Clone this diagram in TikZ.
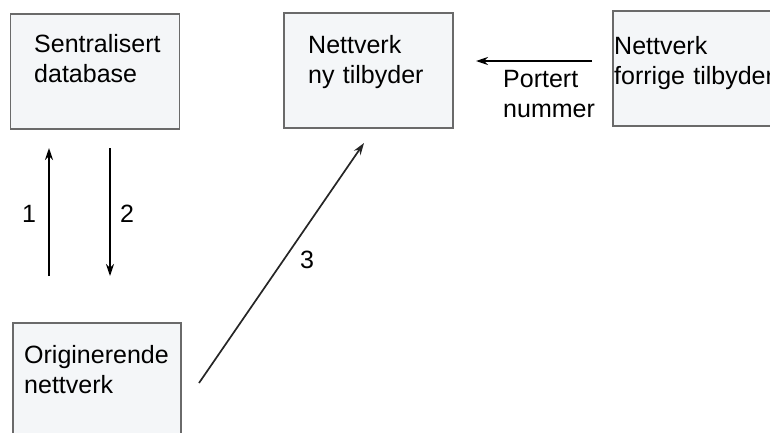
\documentclass[tikz,border=0pt]{standalone}
\usepackage{fontspec}
\setmainfont{Liberation Sans}
\usetikzlibrary{arrows.meta}
\definecolor{boxfill}{HTML}{F4F6F8}
\definecolor{boxline}{HTML}{6A6A6A}
\tikzset{
  box/.style={draw=boxline, fill=boxfill, line width=1.6pt, anchor=north west, inner sep=0pt},
  txt/.style={anchor=base west, inner sep=0pt, text width=200pt, align=left,
              font=\fontsize{25}{30}\selectfont},
  num/.style={anchor=base, inner sep=0pt, font=\fontsize{25}{30}\selectfont},
  arr/.style={-{Stealth[length=12pt,width=8pt]}, line width=1.7pt, black}
}
\begin{document}
\begin{tikzpicture}[x=1pt,y=-1pt]
\useasboundingbox (0,0) rectangle (770,432);
% boxes
\node[box, minimum width=169pt, minimum height=115pt] (db) at (9.5,13) {};
\node[box, minimum width=169pt, minimum height=115pt] (ny) at (283,12) {};
\node[box, minimum width=170pt, minimum height=115pt] (old) at (612,10) {};
\node[box, minimum width=168pt, minimum height=130pt] (orig) at (12,322) {};
% texts
\node[txt] (tdb) at (34,52) {Sentralisert\\database};
\node[txt] (tny) at (308,53) {Nettverk\\ny tilbyder};
\node[txt] (told) at (614,54) {Nettverk\\forrige tilbyder};
\node[txt] (torig) at (24,363) {Originerende\\nettverk};
\node[txt] (tport) at (503,87) {Portert\\nummer};
% arrow end points
\coordinate (a1s) at (49,276);
\coordinate (a1e) at (49,148);
\coordinate (a2s) at (110,148);
\coordinate (a2e) at (110,276);
\coordinate (a3s) at (199,383);
\coordinate (a3e) at (364,143);
\coordinate (a4s) at (592,61);
\coordinate (a4e) at (476,61);
\draw[arr] (a1s) -- (a1e);
\draw[arr] (a2s) -- (a2e);
\draw[arr, draw=black!85] (a3s) -- (a3e);
\draw[arr] (a4s) -- (a4e);
% labels
\node[num] (l1) at (29,222) {1};
\node[num] (l2) at (127,222) {2};
\node[num] (l3) at (307,268) {3};
\end{tikzpicture}
\end{document}
